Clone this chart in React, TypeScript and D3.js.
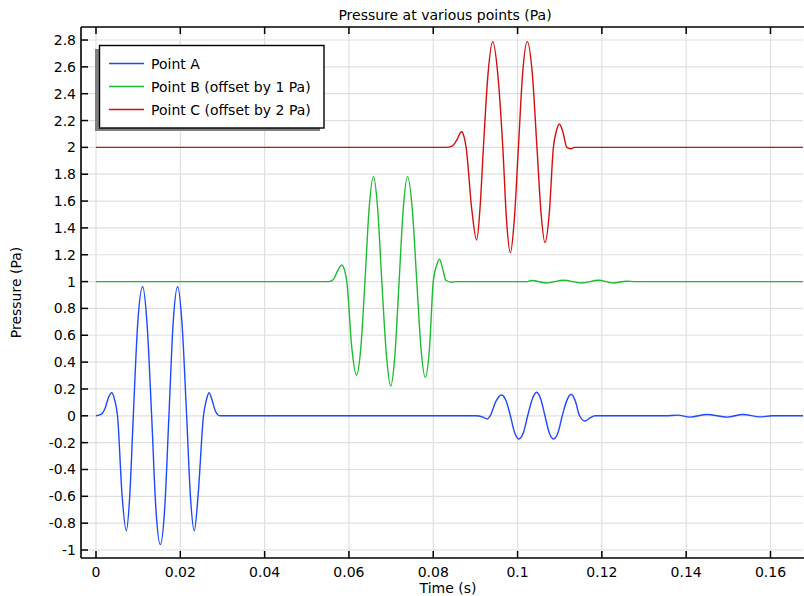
import React from "react";
import * as d3 from "d3";

const title = "Pressure at various points (Pa)";
const xLabel = "Time (s)";
const yLabel = "Pressure (Pa)";

const xTicks = [0, 0.02, 0.04, 0.06, 0.08, 0.1, 0.12, 0.14, 0.16];
const xTickLabels = ["0", "0.02", "0.04", "0.06", "0.08", "0.1", "0.12", "0.14", "0.16"];
const yTicks = [-1, -0.8, -0.6, -0.4, -0.2, 0, 0.2, 0.4, 0.6, 0.8, 1, 1.2, 1.4, 1.6, 1.8, 2, 2.2, 2.4, 2.6, 2.8];
const yTickLabels = ["-1", "-0.8", "-0.6", "-0.4", "-0.2", "0", "0.2", "0.4", "0.6", "0.8", "1", "1.2", "1.4", "1.6", "1.8", "2", "2.2", "2.4", "2.6", "2.8"];

const seriesNames = ["Point A", "Point B (offset by 1 Pa)", "Point C (offset by 2 Pa)"];
const seriesColors = ["#1f48ff", "#1fbb32", "#d40f0f"];

// [time (s), pressure (Pa)]
const pointA: [number, number][] = [
  [0, 0], [0.0012, 0.01], [0.0022, 0.06], [0.003, 0.14], [0.00372, 0.172], [0.0045, 0.11],
  [0.0051, 0], [0.0062, -0.6], [0.00719, -0.856], [0.008, -0.6], [0.00885, 0],
  [0.0099, 0.69], [0.01107, 0.962], [0.0121, 0.69], [0.0132, 0], [0.0142, -0.69],
  [0.01526, -0.96], [0.0163, -0.69], [0.0173, 0], [0.0183, 0.69], [0.01937, 0.962],
  [0.0204, 0.69], [0.0215, 0], [0.0224, -0.6], [0.02332, -0.856], [0.0242, -0.6],
  [0.0255, 0], [0.0262, 0.12], [0.02681, 0.172], [0.0276, 0.11], [0.0284, 0.03], [0.0294, 0],
  [0.09, 0], [0.0918, -0.01], [0.0928, -0.024], [0.0935, 0], [0.0949, 0.11], [0.0962, 0.155],
  [0.0973, 0.11], [0.0983, 0], [0.0993, -0.125], [0.1003, -0.173], [0.1014, -0.125],
  [0.1024, 0], [0.1035, 0.125], [0.1045, 0.175], [0.1055, 0.125], [0.1065, 0],
  [0.1075, -0.125], [0.1085, -0.173], [0.1096, -0.125], [0.1106, 0], [0.1117, 0.115],
  [0.1127, 0.16], [0.1137, 0.11], [0.1147, 0], [0.116, -0.039], [0.1172, -0.015], [0.1184, 0],
  [0.135, 0], [0.138, 0.005], [0.1409, -0.01], [0.1449, 0.01], [0.1497, -0.01],
  [0.1535, 0.01], [0.1575, -0.008], [0.1604, 0], [0.1677, 0],
];

const pointB: [number, number][] = [
  [0, 1], [0.0553, 1], [0.0563, 1.015], [0.0573, 1.08], [0.0583, 1.124], [0.059, 1.08],
  [0.0595, 1], [0.0607, 0.5], [0.0618, 0.302], [0.0628, 0.5], [0.0638, 1], [0.0648, 1.55],
  [0.0658, 1.782], [0.0668, 1.55], [0.0678, 1], [0.0689, 0.45], [0.0699, 0.222],
  [0.0709, 0.45], [0.0719, 1], [0.0729, 1.55], [0.0739, 1.782], [0.075, 1.55], [0.0761, 1],
  [0.0771, 0.5], [0.0781, 0.287], [0.0791, 0.5], [0.08, 1], [0.0808, 1.12], [0.0815, 1.166],
  [0.0822, 1.1], [0.083, 1.01], [0.0844, 0.995], [0.0855, 1],
  [0.102, 1], [0.1034, 1.008], [0.1069, 0.99], [0.1109, 1.01], [0.1152, 0.99],
  [0.1192, 1.01], [0.1227, 0.99], [0.1259, 1.003], [0.128, 1], [0.1677, 1],
];

const pointC: [number, number][] = [
  [0, 2], [0.083, 2], [0.0845, 2.01], [0.0855, 2.05], [0.0867, 2.117], [0.0873, 2.08],
  [0.0878, 2], [0.0891, 1.55], [0.0903, 1.31], [0.0911, 1.55], [0.0919, 2], [0.093, 2.55],
  [0.0941, 2.788], [0.0953, 2.55], [0.0965, 2], [0.0974, 1.45], [0.0983, 1.215],
  [0.0992, 1.45], [0.1002, 2], [0.1012, 2.55], [0.1023, 2.788], [0.1035, 2.55], [0.1046, 2],
  [0.1056, 1.5], [0.1065, 1.29], [0.1075, 1.5], [0.1085, 2], [0.1092, 2.12], [0.1099, 2.174],
  [0.1107, 2.12], [0.1117, 2], [0.1126, 1.99], [0.1135, 2], [0.1677, 2],
];

const seriesData = [pointA, pointB, pointC];

const W = 804;
const H = 596;
const L = 81, R = 803, T = 27, B = 558;
const FONT = "'DejaVu Sans', sans-serif";

export default function App() {
  const x = d3.scaleLinear().domain([-0.003558, 0.16771]).range([L, R]);
  const y = d3.scaleLinear().domain([-1.0596, 2.897]).range([B, T]);
  const line = d3
    .line<[number, number]>()
    .x((d) => x(d[0]))
    .y((d) => y(d[1]))
    .curve(d3.curveMonotoneX);

  const legendRows = [63.5, 86.5, 109.5];

  return (
    <svg
      width={W}
      height={H}
      style={{ position: "absolute", left: 0, top: 0, background: "#fff" }}
      fontFamily={FONT}
    >
      <defs>
        <clipPath id="plotClip">
          <rect x={L} y={T} width={R - L} height={B - T} />
        </clipPath>
      </defs>
      <rect x={0} y={0} width={W} height={H} fill="#fff" />
      {/* grid */}
      {xTicks.map((t, i) => (
        <line key={"gx" + i} x1={x(t)} x2={x(t)} y1={T} y2={B} stroke="#e0e0e0" strokeWidth={1.2} />
      ))}
      {yTicks.map((t, i) => (
        <line key={"gy" + i} x1={L} x2={R} y1={y(t)} y2={y(t)} stroke="#e0e0e0" strokeWidth={1.2} />
      ))}
      {/* series */}
      <g clipPath="url(#plotClip)">
        {seriesData.map((d, i) => (
          <path key={"s" + i} d={line(d) || ""} fill="none" stroke={seriesColors[i]} strokeWidth={1.4} />
        ))}
      </g>
      {/* axes */}
      <line x1={L} x2={L} y1={T} y2={B} stroke="#000" strokeWidth={1.6} />
      <line x1={L} x2={R + 2} y1={B} y2={B} stroke="#000" strokeWidth={1.6} />
      <line x1={L} x2={R + 2} y1={T} y2={T} stroke="#000" strokeWidth={1.6} />
      {xTicks.map((t, i) => (
        <g key={"xt" + i}>
          <line x1={x(t)} x2={x(t)} y1={B} y2={B - 7} stroke="#000" strokeWidth={1.5} />
          <line x1={x(t)} x2={x(t)} y1={T} y2={T + 7} stroke="#000" strokeWidth={1.5} />
          <text x={x(t)} y={576.5} textAnchor="middle" fontSize={14} fill="#000">
            {xTickLabels[i]}
          </text>
        </g>
      ))}
      {yTicks.map((t, i) => (
        <g key={"yt" + i}>
          <line x1={L} x2={L + 7} y1={y(t)} y2={y(t)} stroke="#000" strokeWidth={1.5} />
          <text x={76} y={y(t) + 5} textAnchor="end" fontSize={14} fill="#000">
            {yTickLabels[i]}
          </text>
        </g>
      ))}
      {/* labels */}
      <text x={445} y={19.5} textAnchor="middle" fontSize={14} fill="#000">
        {title}
      </text>
      <text x={448} y={593} textAnchor="middle" fontSize={14} fill="#000">
        {xLabel}
      </text>
      <text
        transform={`translate(21, ${(T + B) / 2}) rotate(-90)`}
        textAnchor="middle"
        fontSize={14}
        fill="#000"
      >
        {yLabel}
      </text>
      {/* legend */}
      <rect x={95} y={49} width={225} height={82} fill="#808080" />
      <rect x={99.5} y={45.5} width={224.5} height={82.5} fill="#fff" stroke="#000" strokeWidth={1.4} />
      {seriesNames.map((n, i) => (
        <g key={"lg" + i}>
          <line x1={109} x2={144} y1={legendRows[i]} y2={legendRows[i]} stroke={seriesColors[i]} strokeWidth={1.5} />
          <text x={151} y={legendRows[i] + 5.5} fontSize={14} fill="#000">
            {n}
          </text>
        </g>
      ))}
    </svg>
  );
}
